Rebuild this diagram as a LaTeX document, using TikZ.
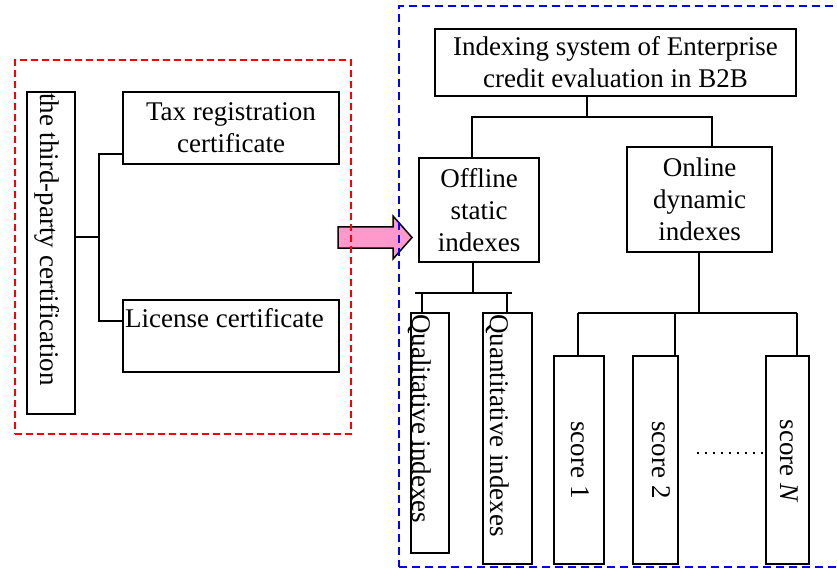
\documentclass[tikz,border=0pt]{standalone}
\usepackage{fontspec}
\setmainfont{Liberation Serif}
\newcommand\diafont{\fontsize{27}{32}\selectfont}
\definecolor{arrowpink}{HTML}{FF99CC}
\begin{document}
\begin{tikzpicture}[x=1pt,y=-1pt,
  box/.style={draw, line width=1.5pt, inner sep=0pt, outer sep=0pt, font=\diafont, align=center, anchor=north west},
  conn/.style={line width=1.1pt},
  lbl/.style={font=\diafont, inner sep=0pt},
  vlbl/.style={font=\diafont, inner sep=0pt, rotate=-90},
  frame/.style={line width=1.5pt, inner sep=0pt, outer sep=0pt, anchor=north west},
]
\useasboundingbox (0,0) rectangle (837,569);
% transition arrow
\draw[line width=1.5pt, fill=arrowpink, line join=miter]
  (338,227) -- (393,227) -- (393,216) -- (412,237.5) -- (393,259) -- (393,248) -- (338,248) -- cycle;
% frames
\node[frame, draw=red, dash pattern=on 7pt off 4pt, minimum width=336pt, minimum height=374pt] (rf) at (15,60) {};
\node[frame, draw=blue, dash pattern=on 8pt off 5pt, minimum width=450pt, minimum height=561pt] (bf) at (399,6) {};
% left group
\node[box, minimum width=48pt, minimum height=322pt] (tp) at (27,92) {};
\node[vlbl, anchor=base west] (tpt) at (40,93) {the third-party certification};
\node[box, minimum width=216pt, minimum height=72pt] (tax) at (123,92) {Tax registration\\certificate};
\node[box, minimum width=216pt, minimum height=72pt] (lic) at (123,300) {};
\node[lbl, anchor=base west] (lict) at (125,327) {License certificate};
\coordinate (j1) at (99,237);
\coordinate (ja) at (99,154);
\coordinate (jb) at (99,321);
\draw[conn] (j1 -| tp.east) -- (j1);
\draw[conn] (ja -| tax.west) -- (ja) -- (jb) -- (jb -| lic.west);
% right group
\node[box, minimum width=361pt, minimum height=67pt] (top) at (435,29) {Indexing system of Enterprise\\credit evaluation in B2B};
\node[box, minimum width=120pt, minimum height=104pt] (off) at (419,158) {Offline\\static\\indexes};
\node[box, minimum width=145pt, minimum height=105pt] (on) at (627,147) {Online\\dynamic\\indexes};
\node[box, minimum width=38pt, minimum height=240pt] (qual) at (411,313) {};
\node[box, minimum width=49pt, minimum height=251pt] (quan) at (483,313) {};
\node[vlbl, anchor=base west] (qualt) at (412,314) {Qualitative indexes};
\node[vlbl, anchor=base west] (quant) at (490,314) {Quantitative indexes};
\node[box, minimum width=50pt, minimum height=208pt] (s1) at (554,356) {};
\node[box, minimum width=45pt, minimum height=208pt] (s2) at (633,356) {};
\node[box, minimum width=43pt, minimum height=208pt] (sN) at (766,356) {};
\node[vlbl] (s1t) at (580,460) {score 1};
\node[vlbl] (s2t) at (661,460) {score 2};
\node[vlbl] (sNt) at (789,461) {score \textit{N}};
% connectors
\coordinate (t1) at (587,117);
\coordinate (hl) at (472,117);
\coordinate (hr) at (712,117);
\draw[conn] (t1 |- top.south) -- (t1);
\draw[conn] (hl |- off.north) -- (hl) -- (hr) -- (hr |- on.north);
\coordinate (o1) at (473,293);
\coordinate (ql) at (415,293);
\coordinate (qr) at (512,293);
\coordinate (qa) at (422,293);
\coordinate (qb) at (507,293);
\draw[conn] (o1 |- off.south) -- (o1);
\draw[conn] (ql) -- (qr);
\draw[conn] (qa) -- (qa |- qual.north);
\draw[conn] (qb) -- (qb |- quan.north);
\coordinate (n1) at (699,313);
\coordinate (sa) at (578,313);
\coordinate (sb) at (675,313);
\coordinate (sc) at (797,313);
\draw[conn] (n1 |- on.south) -- (n1);
\draw[conn] (sa) -- (sc);
\draw[conn] (sa) -- (sa |- s1.north);
\draw[conn] (sb) -- (sb |- s2.north);
\draw[conn] (sc) -- (sc |- sN.north);
\coordinate (d0) at (697,453);
\draw[line width=1.2pt, dash pattern=on 1.5pt off 6.5pt] (d0) -- (d0 -| sN.west);
\end{tikzpicture}
\end{document}
